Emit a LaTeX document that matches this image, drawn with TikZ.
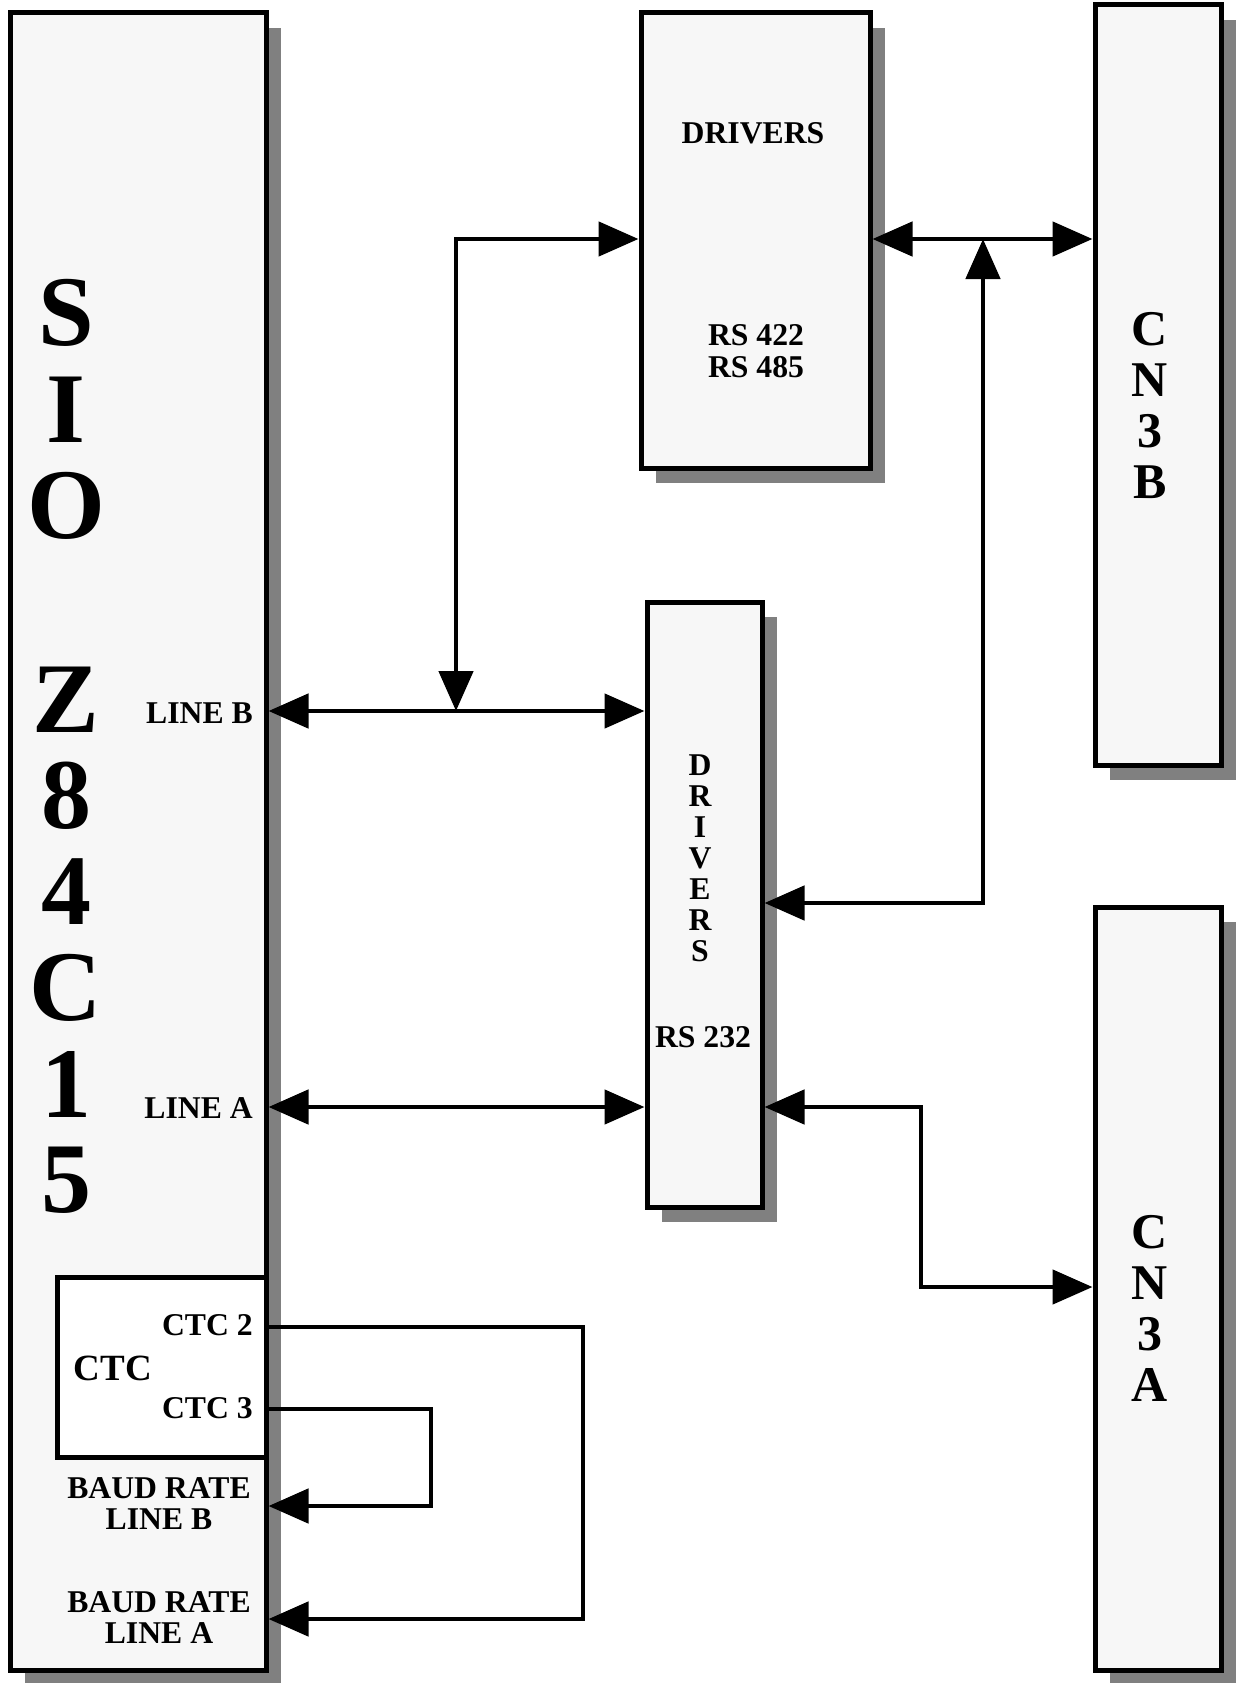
\documentclass[tikz,border=0pt]{standalone}
\usepackage{fontspec}
\setmainfont{Liberation Serif}
\usepackage{tikz}
\usetikzlibrary{arrows.meta, positioning, calc, shadows}
\definecolor{BoxFill}{HTML}{F7F7F7}
\definecolor{Shade}  {HTML}{808080}
\tikzset{
  blk/.style={draw, line width=5pt, fill=BoxFill, inner sep=0pt,
              drop shadow={shadow xshift=15pt, shadow yshift=-15pt,
                           fill=Shade, opacity=1}},
  lbl/.style={inner sep=0pt, font=\fontsize{31.7}{31}\selectfont\bfseries, align=center},
  arr/.style={-{Triangle[length=40pt, width=34pt]}, line width=4.8pt},
  biarr/.style={{Triangle[length=40pt, width=34pt]}-{Triangle[length=40pt, width=34pt]}, line width=4.8pt}
}

\begin{document}
\begin{tikzpicture}[x=1pt, y=-1pt]
  \useasboundingbox (0,0) rectangle (1236,1683);
  % boxes
  \node[blk, minimum width=256, minimum height=1657] (sio)  at (138,841.5)  {};
  \node[blk, minimum width=229, minimum height=455]  (drvA) at (755.5,240.5) {};
  \node[blk, minimum width=115, minimum height=605]  (drvB) at (704.5,904.5) {};
  \node[blk, minimum width=126, minimum height=760]  (cnB)  at (1158,385)   {};
  \node[blk, minimum width=126, minimum height=763]  (cnA)  at (1158,1288.5) {};
  \node[draw, line width=5pt, fill=white, minimum width=209, minimum height=180]
    (ctc) at (161.5,1367) {};
  % big chip name
  \foreach \ch/\yy in {S/313, I/410, O/506, Z/700, 8/796, 4/892, C/988, 1/1084, 5/1180}
    \node[inner sep=0pt, font=\fontsize{100}{96}\selectfont\bfseries] at (66,\yy) {\ch};
  % texts
  \node[lbl] (tA)  at (753,133) {DRIVERS};
  \node[lbl, font=\fontsize{31.7}{32}\selectfont\bfseries] (tRS) at (756,351) {RS 422\\RS 485};
  \node[lbl] (tB)  at (700,858) {D\\R\\I\\V\\E\\R\\S};
  \node[lbl] (tRS2) at (703,1037) {RS 232};
  \node[lbl, font=\fontsize{50}{51}\selectfont\bfseries] (tCB) at (1150,406) {C\\N\\3\\B};
  \node[lbl, font=\fontsize{50}{51}\selectfont\bfseries] (tCA) at (1150,1308) {C\\N\\3\\A};
  \node[lbl, anchor=east] (lnB) at (253,713)  {LINE B};
  \node[lbl, anchor=east] (lnA) at (253,1108) {LINE A};
  \node[lbl, anchor=east] (c2)  at (253,1325) {CTC 2};
  \node[lbl, anchor=east] (c3)  at (253,1408) {CTC 3};
  \node[lbl, font=\fontsize{37}{37}\selectfont\bfseries] (tctc) at (113,1368) {CTC};
  \node[lbl] (brB) at (159,1503.5) {BAUD RATE\\LINE B};
  \node[lbl] (brA) at (159,1618) {BAUD RATE\\LINE A};
  % rows of the connectors
  \coordinate (yT) at (0,239);
  \coordinate (yB) at (0,711);
  \coordinate (yR) at (0,903);
  \coordinate (yA) at (0,1107);
  \coordinate (jB) at (456,711);
  \coordinate (jT) at (983,239);
  % connectors
  \draw[biarr] (sio.east |- yB) -- (drvB.west |- yB);
  \draw[biarr] (jB) -- (jB |- yT) -- (drvA.west |- yT);
  \draw[biarr] (drvA.east |- yT) -- (cnB.west |- yT);
  \draw[biarr] (drvB.east |- yR) -| (jT);
  \draw[biarr] (sio.east |- yA) -- (drvB.west |- yA);
  \draw[biarr] (drvB.east |- yA) -- (921,1107) |- (cnA.west |- 0,1287);
  \draw[arr] (ctc.east |- 0,1327) -- (583,1327) |- (sio.east |- 0,1619);
  \draw[arr] (ctc.east |- 0,1409) -- (431,1409) |- (sio.east |- 0,1506);
\end{tikzpicture}
\end{document}
